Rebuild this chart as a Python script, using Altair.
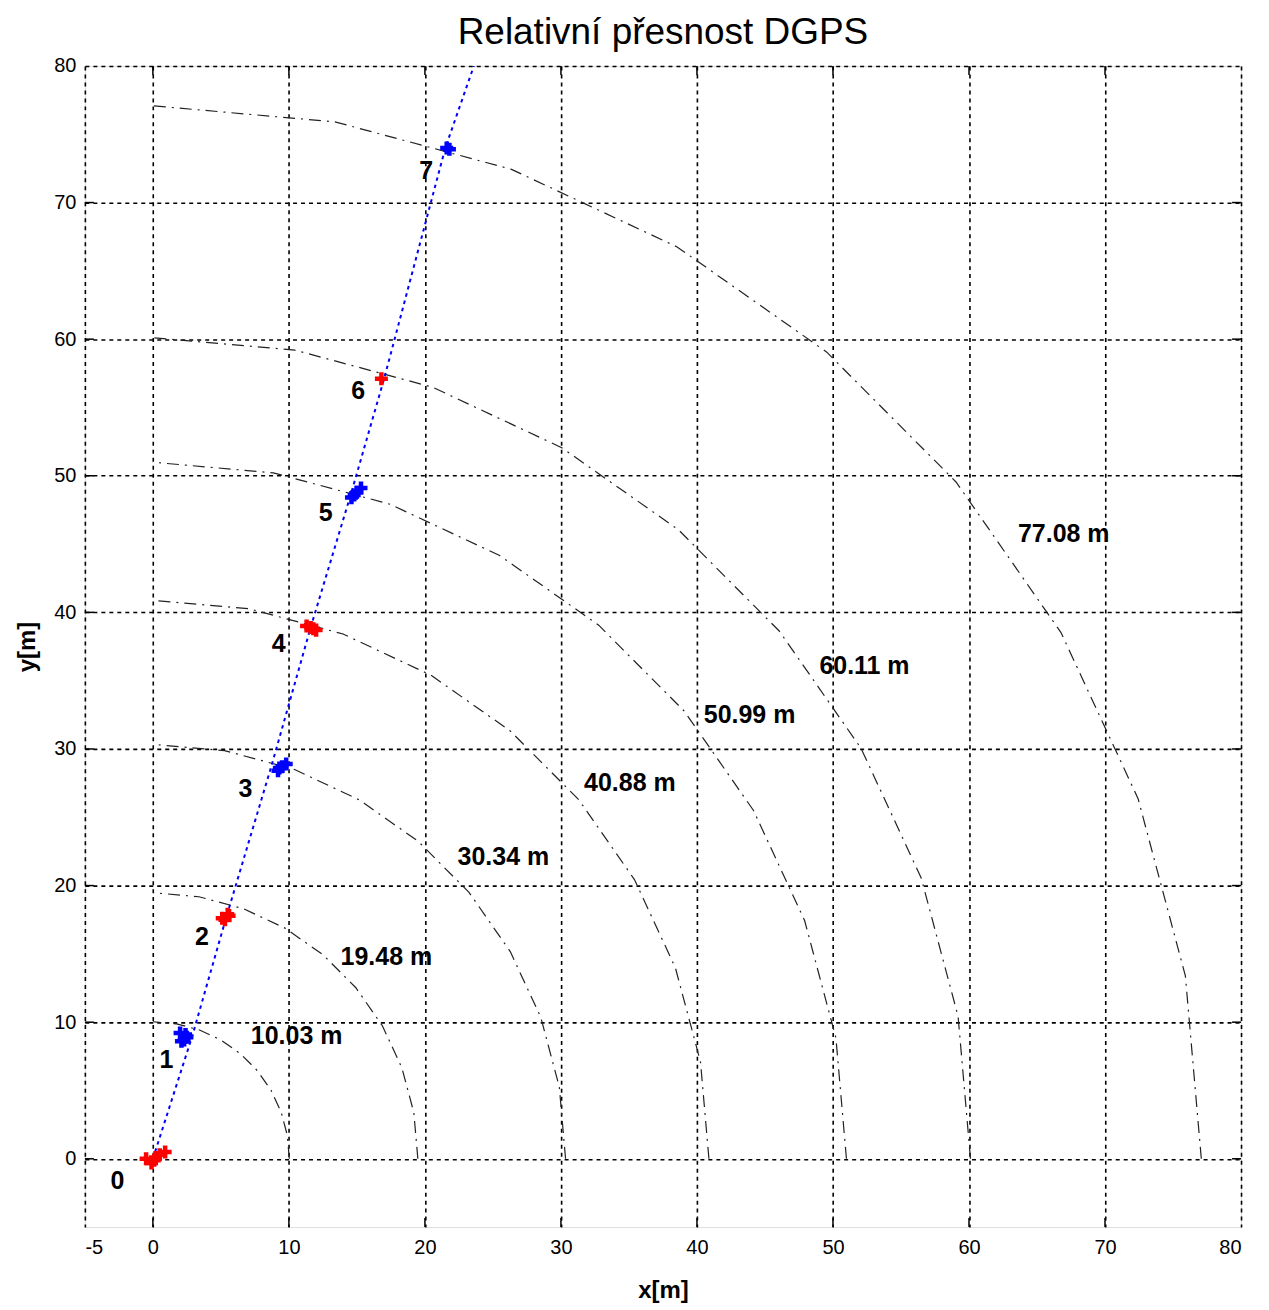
import math
import altair as alt
import pandas as pd

# ---------------- data ----------------
radii = [10.03, 19.48, 30.34, 40.88, 50.99, 60.11, 77.08]
radius_labels = ["10.03 m", "19.48 m", "30.34 m", "40.88 m", "50.99 m", "60.11 m", "77.08 m"]
radius_label_x = [7.2, 13.8, 22.4, 31.7, 40.5, 49.0, 63.6]
radius_label_y = [9.0, 14.8, 22.1, 27.5, 32.5, 36.1, 45.7]
arc_angles_deg = [0, 10, 20, 30, 40, 50, 60, 70, 80, 90]

track_x = [0.0, 2.9, 5.4, 8.7, 11.6, 14.6, 17.0, 21.5, 23.6]
track_y = [0.0, 9.0, 17.7, 28.7, 38.9, 48.8, 57.1, 74.0, 80.0]

red_x = [-0.5, -0.1, 0.2, 0.5, 0.9, 0.1,
         5.1, 5.5, 5.3, 5.6,
         11.3, 11.6, 12.0, 11.8,
         16.8]
red_y = [0.0, -0.3, 0.1, 0.3, 0.5, -0.1,
         17.6, 17.9, 17.5, 17.8,
         39.0, 38.9, 38.7, 38.8,
         57.1]
blue_x = [2.0, 2.3, 2.5, 2.1, 2.4,
          9.2, 9.5, 9.8, 9.3,
          14.6, 15.0, 15.3, 14.8,
          21.6, 21.8]
blue_y = [9.2, 8.7, 8.9, 8.6, 9.1,
          28.4, 28.7, 28.9, 28.6,
          48.4, 48.8, 49.1, 48.6,
          74.0, 73.9]

point_labels = ["0", "1", "2", "3", "4", "5", "6", "7"]
point_label_x = [-2.6, 1.0, 3.6, 6.8, 9.25, 12.7, 15.1, 20.1]
point_label_y = [-1.6, 7.2, 16.2, 27.1, 37.7, 47.3, 56.2, 72.3]

x_ticks = [-5, 0, 10, 20, 30, 40, 50, 60, 70, 80]
y_ticks = [0, 10, 20, 30, 40, 50, 60, 70, 80]
inner_x_ticks = [0, 10, 20, 30, 40, 50, 60, 70]
inner_y_ticks = [0, 10, 20, 30, 40, 50, 60, 70]

# ---------------- tables ----------------
arc_rows = []
for r in radii:
    for i, a in enumerate(arc_angles_deg):
        t = math.radians(a)
        arc_rows.append({"r": r, "o": i, "x": r * math.cos(t), "y": r * math.sin(t)})
arcs_df = pd.DataFrame(arc_rows)
track_df = pd.DataFrame({"x": track_x, "y": track_y, "o": list(range(len(track_x)))})
red_df = pd.DataFrame({"x": red_x, "y": red_y})
blue_df = pd.DataFrame({"x": blue_x, "y": blue_y})
plab_df = pd.DataFrame({"x": point_label_x, "y": point_label_y, "t": point_labels})
rlab_df = pd.DataFrame({"x": radius_label_x, "y": radius_label_y, "t": radius_labels})
xt_df = pd.DataFrame({"v": inner_x_ticks})
yt_df = pd.DataFrame({"v": inner_y_ticks})

W, H = 1158, 1163
FONT = "Liberation Sans"

xs = alt.Scale(domain=[-5, 80], nice=False, zero=False)
ys = alt.Scale(domain=[-5, 80], nice=False, zero=False)

xa = alt.Axis(values=x_ticks, grid=True, gridDash=[4, 4], gridColor="black",
              gridWidth=1.6, gridOpacity=1, ticks=False, domain=False,
              labelFont=FONT, labelFontSize=20, labelColor="black", labelPadding=10,
              labelExpr="replace(datum.label, '\u2212', '-')",
              title="x[m]", titleFont=FONT, titleFontSize=24, titleFontWeight="bold",
              titleColor="black", titleY=64, titleBaseline="middle")
ya = alt.Axis(values=y_ticks, grid=True, gridDash=[4, 4], gridColor="black",
              gridWidth=1.6, gridOpacity=1, ticks=False, domain=False,
              labelFont=FONT, labelFontSize=20, labelColor="black", labelPadding=9,
              title="y[m]", titleFont=FONT, titleFontSize=24, titleFontWeight="bold",
              titleColor="black", titleX=-57, titleY=H / 2, titleBaseline="middle",
              titleAngle=270)

X = lambda f="x": alt.X(f"{f}:Q", scale=xs, axis=xa)
Y = lambda f="y": alt.Y(f"{f}:Q", scale=ys, axis=ya)

arcs = alt.Chart(arcs_df).mark_line(
    color="#222222", strokeWidth=1.2, strokeDash=[12, 6, 2, 6]
).encode(x=X(), y=Y(), detail="r:N", order="o:Q")

track = alt.Chart(track_df).mark_line(
    color="#0000ff", strokeWidth=2, strokeDash=[3.5, 4], clip=True
).encode(x=X(), y=Y(), order="o:Q")

plus = "M-1,0L1,0M0,-1L0,1"
red_pts = alt.Chart(red_df).mark_point(
    shape=plus, filled=False, color="#ff0000", strokeWidth=4.5, size=170, opacity=1
).encode(x=X(), y=Y())
blue_pts = alt.Chart(blue_df).mark_point(
    shape=plus, filled=False, color="#0000ff", strokeWidth=4.5, size=170, opacity=1
).encode(x=X(), y=Y())

plabels = alt.Chart(plab_df).mark_text(
    font=FONT, fontSize=25, fontWeight="bold", color="black", align="center", baseline="middle"
).encode(x=X(), y=Y(), text="t:N")

rlabels = alt.Chart(rlab_df).mark_text(
    font=FONT, fontSize=25, fontWeight="bold", color="black", align="left", baseline="middle"
).encode(x=X(), y=Y(), text="t:N")

tick_b = alt.Chart(xt_df).mark_rule(color="black", strokeWidth=1.5).encode(
    x=alt.X("v:Q", scale=xs, axis=xa), y=alt.value(H), y2=alt.value(H - 9))
tick_t = alt.Chart(xt_df).mark_rule(color="black", strokeWidth=1.5).encode(
    x=alt.X("v:Q", scale=xs, axis=xa), y=alt.value(0), y2=alt.value(9))
tick_l = alt.Chart(yt_df).mark_rule(color="black", strokeWidth=1.5).encode(
    y=alt.Y("v:Q", scale=ys, axis=ya), x=alt.value(0), x2=alt.value(9))
tick_r = alt.Chart(yt_df).mark_rule(color="black", strokeWidth=1.5).encode(
    y=alt.Y("v:Q", scale=ys, axis=ya), x=alt.value(W), x2=alt.value(W - 9))

chart = alt.layer(
    arcs, tick_b, tick_t, tick_l, tick_r, track, red_pts, blue_pts, plabels, rlabels
).properties(
    width=W, height=H,
    title=alt.TitleParams("Relativní přesnost DGPS", font=FONT, fontSize=37,
                          fontWeight="normal", color="black", anchor="middle", offset=4),
    autosize=alt.AutoSizeParams(type="none"),
    padding={"left": 77, "top": 57, "right": 20, "bottom": 80},
).configure_view(stroke="black", strokeWidth=1.5).configure(background="white")

chart.save("out.html", embed_options={"renderer": "svg", "actions": False})
